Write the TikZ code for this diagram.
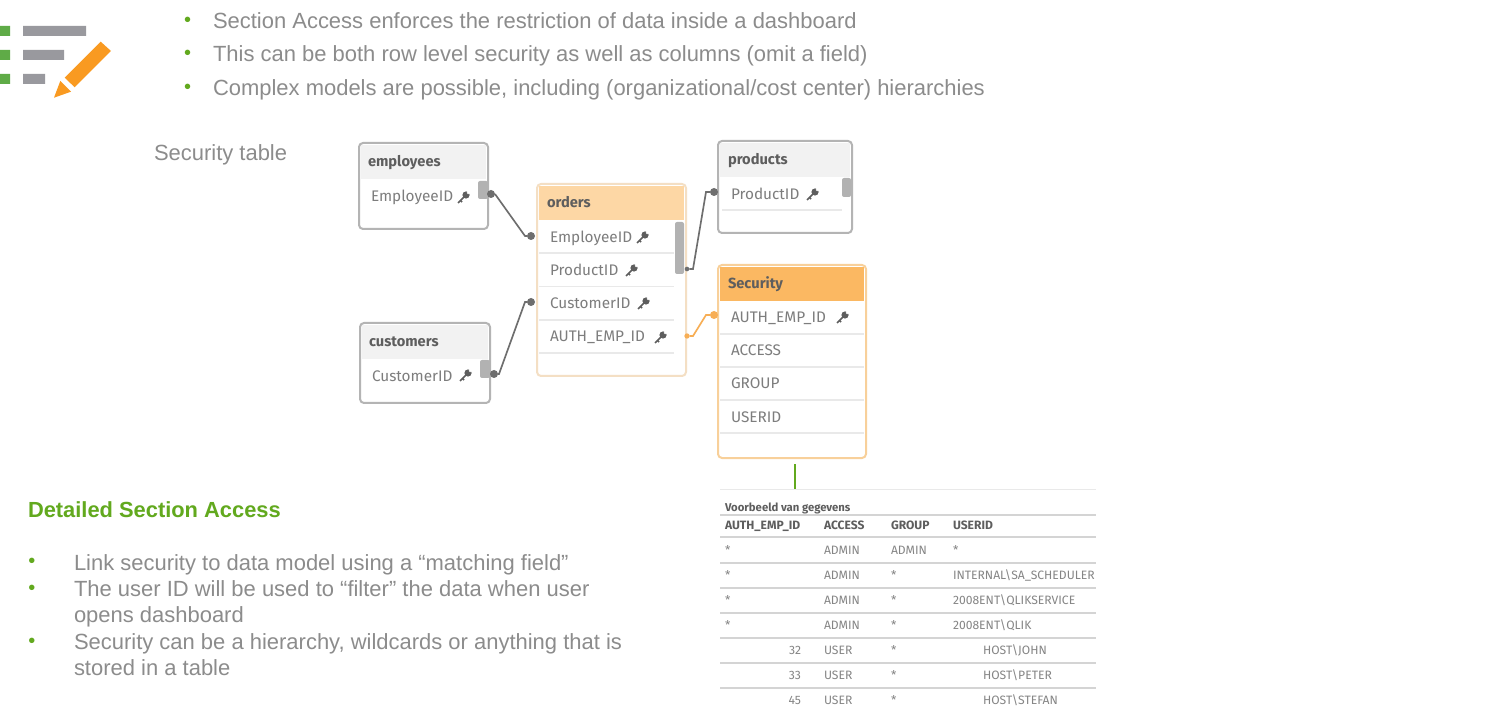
\documentclass[tikz,border=0pt]{standalone}
\usepackage{fontspec}
\setmainfont{Liberation Sans}
\newfontfamily\qlik{Fira Sans}
\usetikzlibrary{fit}
\definecolor{slidetxt}{HTML}{8C8C8C}
\definecolor{slidegreen}{HTML}{62A91E}
\definecolor{iconorange}{HTML}{F99A21}
\definecolor{icongrey}{HTML}{99999E}
\definecolor{icongreen}{HTML}{5FAB47}
\definecolor{boxgrey}{HTML}{B4B4B4}
\definecolor{headgrey}{HTML}{F2F2F2}
\definecolor{ordline}{HTML}{F4DFC4}
\definecolor{ordhead}{HTML}{FDD7A5}
\definecolor{secline}{HTML}{F8D09A}
\definecolor{sechead}{HTML}{FBB862}
\definecolor{rowline}{HTML}{E9E9E9}
\definecolor{scrollgrey}{HTML}{B2B2B2}
\definecolor{linkgrey}{HTML}{6E6E6E}
\definecolor{linkorange}{HTML}{F7AE55}
\definecolor{qtxt}{HTML}{7D7D7D}
\definecolor{qdark}{HTML}{5E5E5E}
\definecolor{dtxt}{HTML}{858585}
\definecolor{dline}{HTML}{D4D4D4}
\tikzset{
  x=0.75pt,y=-0.75pt,
  lbl/.style={anchor=base west,inner sep=0pt,outer sep=0pt},
  slide/.style={lbl,text=slidetxt,font=\fontsize{16.48}{20}\selectfont},
  bul/.style={lbl,text=slidegreen,font=\fontsize{15}{20}\selectfont},
  tablebox/.style={draw=#1,line width=1.5pt,rounded corners=3pt,inner sep=0pt,outer sep=0pt,fill=white},
  headbar/.style={fill=#1,inner sep=0pt,outer sep=0pt},
  title/.style={lbl,text=qdark,font=\qlik\bfseries\fontsize{11}{13}\selectfont},
  field/.style={lbl,text=qtxt,font=\qlik\fontsize{11.5}{14}\selectfont},
  scrollb/.style={fill=scrollgrey,rounded corners=1.5pt,inner sep=0pt,outer sep=0pt},
  linkdot/.style={circle,fill=#1,inner sep=0pt,minimum size=6pt,outer sep=0pt},
  link/.style={draw=#1,line width=1.25pt},
  rowsep/.style={draw=rowline,line width=1pt},
  dhead/.style={lbl,text=qdark,font=\qlik\bfseries\fontsize{9.05}{10}\selectfont},
  dcap/.style={lbl,text=qdark,font=\qlik\bfseries\fontsize{8.5}{10}\selectfont},
  dcell/.style={lbl,text=dtxt,font=\qlik\fontsize{9.1}{10}\selectfont},
  dnum/.style={anchor=base east,inner sep=0pt,outer sep=0pt,text=dtxt,font=\qlik\fontsize{9.1}{10}\selectfont},
  drule/.style={draw=dline,line width=0.9pt},
}
\newcommand{\keyicon}[2]{%
  \begin{scope}[shift={(#1,#2)}]
    \fill[qdark] (3,-3) circle (2.7pt);
    \fill[white] (5.2,-5.2) circle (1.1pt);
    \draw[qdark,line width=1.3pt] (2,-2) -- (-5,5);
    \draw[qdark,line width=1.1pt] (-2.5,2.5) -- (-1,4);
  \end{scope}}
\begin{document}
\begin{tikzpicture}
\useasboundingbox[fill=white] (0,0) rectangle (1485,716);

% checklist icon
\fill[icongreen] (0,26) rectangle (10,36) (0,50) rectangle (10,60) (0,74) rectangle (10,84);
\fill[icongrey] (23,26) rectangle (86,36) (23,50) rectangle (64,60) (23,74) rectangle (45,84);
\fill[iconorange] (100.7,41.7) -- (111,51) -- (74.7,87.3) -- (64.7,77.7) -- cycle;
\fill[iconorange] (60.3,81) -- (71,91.7) -- (54,97.7) -- cycle;

% top bullets
\node[bul] (b1) at (184,27) {•};
\node[bul] (b2) at (184,60) {•};
\node[bul] (b3) at (184,94) {•};
\node[slide] (t1) at (213,29) {Section Access enforces the restriction of data inside a dashboard};
\node[slide] (t2) at (213,62) {This can be both row level security as well as columns (omit a field)};
\node[slide] (t3) at (213,96) {Complex models are possible, including (organizational/cost center) hierarchies};
\node[slide] (sectable) at (154,161) {Security table};

% tables
\node[tablebox=boxgrey,fit={(359,143)(488,229)}] (employees) {};
\node[headbar=headgrey,fit={(361,145)(486,179)}] (employeeshead) {};
\node[title] (employeest) at (368,167) {employees};
\node[field] (employeesf) at (371,202) {EmployeeID};
\keyicon{463}{198}
\node[scrollb,fit={(478,181)(488,199)}] (employeess) {};

\node[tablebox=boxgrey,fit={(360,323)(490,403)}] (customers) {};
\node[headbar=headgrey,fit={(362,325)(488,359)}] (customershead) {};
\node[title] (customerst) at (369,347) {customers};
\node[field] (customersf) at (372,382) {CustomerID};
\keyicon{465}{376}
\node[scrollb,fit={(480,360)(490,378)}] (customerss) {};

\node[tablebox=ordline,fit={(537,184)(686,376)}] (orders) {};
\node[headbar=ordhead,fit={(539,186)(684,220)}] (ordershead) {};
\node[title] (orderst) at (547,208) {orders};
\node[field] (ordersf1) at (550,243) {EmployeeID};
\node[field] (ordersf2) at (550,276) {ProductID};
\node[field] (ordersf3) at (550,309) {CustomerID};
\node[field] (ordersf4) at (550,342) {AUTH\_EMP\_ID};
\keyicon{642}{238}
\keyicon{631}{271}
\keyicon{643}{304}
\keyicon{660}{338}
\foreach \yy in {253,286.5,320,353}{\draw[rowsep] (539,\yy) -- (674,\yy);}
\node[scrollb,fit={(675,222)(684,274)}] (orderss) {};

\node[tablebox=boxgrey,fit={(718,141)(852,233)}] (products) {};
\node[headbar=headgrey,fit={(720,143)(850,177)}] (productshead) {};
\node[title] (productst) at (728,165) {products};
\node[field] (productsf) at (731,200) {ProductID};
\keyicon{812}{195}
\draw[rowsep] (722,210) -- (842,210);
\node[scrollb,fit={(842,178)(851,197)}] (productss) {};

\node[tablebox=secline,fit={(718,265)(866,458)}] (security) {};
\node[headbar=sechead,fit={(720,267)(864,301)}] (securityhead) {};
\node[title] (securityt) at (728,289) {Security};
\node[field] (securityf1) at (731,323) {AUTH\_EMP\_ID};
\node[field] (securityf2) at (731,356) {ACCESS};
\node[field] (securityf3) at (731,389) {GROUP};
\node[field] (securityf4) at (731,422) {USERID};
\keyicon{842}{318}
\foreach \yy in {334,367,400,433}{\draw[rowsep] (720,\yy) -- (864,\yy);}

% connectors
\node[linkdot=linkgrey] (e1) at (491,194) {};
\coordinate (e1b) at (495,194);
\coordinate (e2b) at (525,236);
\node[linkdot=linkgrey] (e2) at (531,236) {};
\draw[link=linkgrey] (e1) -- (e1b) -- (e2b) -- (e2);

\node[linkdot=linkgrey] (c1) at (494,374) {};
\coordinate (c1b) at (499,374);
\coordinate (c2b) at (525,302);
\node[linkdot=linkgrey] (c2) at (531,302) {};
\draw[link=linkgrey] (c1) -- (c1b) -- (c2b) -- (c2);

\node[linkdot=linkgrey,minimum size=3.5pt] (p1) at (687,269) {};
\coordinate (p1b) at (693,269);
\coordinate (p2b) at (706,192);
\node[linkdot=linkgrey] (p2) at (714,192) {};
\draw[link=linkgrey] (p1) -- (p1b) -- (p2b) -- (p2);

\node[linkdot=linkorange,minimum size=4pt] (s1) at (687,336) {};
\coordinate (s1b) at (693,336);
\coordinate (s2b) at (706,315);
\node[linkdot=linkorange] (s2) at (714,315) {};
\draw[link=linkorange] (s1) -- (s1b) -- (s2b) -- (s2);

% green link to sample table
\coordinate (g1) at (795,464);
\coordinate (g2) at (795,489);
\draw[draw=slidegreen,line width=1.5pt] (g1) -- (g2);

% detail text
\node[lbl,text=slidegreen,font=\bfseries\fontsize{16.4}{20}\selectfont] (dettitle) at (28,517) {Detailed Section Access};
\node[bul] (d1) at (28.5,567) {•};
\node[bul] (d2) at (28.5,594) {•};
\node[bul] (d3) at (28.5,647) {•};
\node[slide] (dt1) at (74,570) {Link security to data model using a “matching field”};
\node[slide] (dt2) at (74,596) {The user ID will be used to “filter” the data when user};
\node[slide] (dt3) at (74,622) {opens dashboard};
\node[slide] (dt4) at (74,649) {Security can be a hierarchy, wildcards or anything that is};
\node[slide] (dt5) at (74,675) {stored in a table};

% sample table
\draw[draw=rowline,line width=0.7pt] (720,489.5) -- (1096,489.5);
\node[dcap] (voorbeeld) at (725,511) {Voorbeeld van gegevens};
\foreach \yy in {515,537,563,588,613,638,663,688}{\draw[drule] (720,\yy) -- (1096,\yy);}
\node[dhead] (h1) at (725,529) {AUTH\_EMP\_ID};
\node[dhead] (h2) at (824,529) {ACCESS};
\node[dhead] (h3) at (891,529) {GROUP};
\node[dhead] (h4) at (953,529) {USERID};

\node[dcell] (r1a) at (725,554.5) {*};
\node[dcell] (r1b) at (824,554.5) {ADMIN};
\node[dcell] (r1c) at (891,554.5) {ADMIN};
\node[dcell] (r1d) at (953,554.5) {*};
\node[dcell] (r2a) at (725,579.5) {*};
\node[dcell] (r2b) at (824,579.5) {ADMIN};
\node[dcell] (r2c) at (891,579.5) {*};
\node[dcell] (r2d) at (953,579.5) {INTERNAL\textbackslash SA\_SCHEDULER};
\node[dcell] (r3a) at (725,604.5) {*};
\node[dcell] (r3b) at (824,604.5) {ADMIN};
\node[dcell] (r3c) at (891,604.5) {*};
\node[dcell] (r3d) at (953,604.5) {2008ENT\textbackslash QLIKSERVICE};
\node[dcell] (r4a) at (725,629.5) {*};
\node[dcell] (r4b) at (824,629.5) {ADMIN};
\node[dcell] (r4c) at (891,629.5) {*};
\node[dcell] (r4d) at (953,629.5) {2008ENT\textbackslash QLIK};
\node[dnum] (r5a) at (801,654.5) {32};
\node[dcell] (r5b) at (824,654.5) {USER};
\node[dcell] (r5c) at (891,654.5) {*};
\node[dcell] (r5d) at (983,654.5) {HOST\textbackslash JOHN};
\node[dnum] (r6a) at (801,679.5) {33};
\node[dcell] (r6b) at (824,679.5) {USER};
\node[dcell] (r6c) at (891,679.5) {*};
\node[dcell] (r6d) at (983,679.5) {HOST\textbackslash PETER};
\node[dnum] (r7a) at (801,704.5) {45};
\node[dcell] (r7b) at (824,704.5) {USER};
\node[dcell] (r7c) at (891,704.5) {*};
\node[dcell] (r7d) at (983,704.5) {HOST\textbackslash STEFAN};
\end{tikzpicture}
\end{document}
